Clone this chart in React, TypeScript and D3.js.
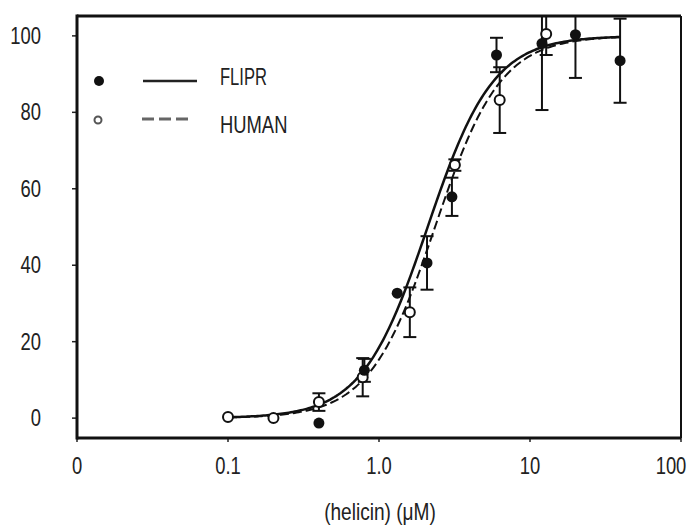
import React from "react";
import * as d3 from "d3";

const W = 689;
const H = 525;

// X axis ticks (log scale; "0" drawn at the 0.01 position)
const xTickValues = [0.01, 0.1, 1, 10, 100];
const xTickLabels = ["0", "0.1", "1.0", "10", "100"];
const yTickValues = [0, 20, 40, 60, 80, 100];

// FLIPR (filled circles, solid fit)
const fliprConc = [0.4, 0.8, 1.32, 2.08, 3.04, 6.0, 12.0, 20.0, 39.5];
const fliprVals = [-1.3, 12.5, 32.7, 40.6, 57.9, 95.0, 98.0, 100.3, 93.5];
const fliprErr = [0, 3.0, 0, 7.0, 5.0, 4.5, 17.4, 11.3, 11.0];

// HUMAN (open circles, dashed fit)
const humanConc = [0.1, 0.2, 0.4, 0.78, 1.6, 3.18, 6.3, 12.8];
const humanVals = [0.3, 0.0, 4.2, 10.7, 27.7, 66.2, 83.2, 100.5];
const humanErr = [0, 0, 2.3, 5.0, 6.5, 1.5, 8.6, 5.5];

// Hill fit parameters
const fliprFit = { ec50: 2.1, n: 2.0, top: 100, bottom: 0 };
const humanFit = { ec50: 2.35, n: 2.0, top: 100, bottom: 0 };
const fitRange = [0.1, 40];

const FONT = "'Liberation Sans', Arial, sans-serif";
const FS = 23;
const SX = 0.8;

const hill = (p: { ec50: number; n: number; top: number; bottom: number }, c: number) =>
  p.bottom + (p.top - p.bottom) / (1 + Math.pow(p.ec50 / c, p.n));

function Txt({ x, y, anchor = "start", children, sx = SX }: { x: number; y: number; anchor?: string; children: React.ReactNode; sx?: number }) {
  return (
    <text
      transform={`translate(${x},${y}) scale(${sx},1)`}
      textAnchor={anchor}
      fontSize={FS}
      fill="#222"
      fontFamily={FONT}
    >
      {children}
    </text>
  );
}

export default function App() {
  const left = 77, right = 681, top = 16, bottom = 438;
  const x = d3.scaleLog().domain([0.01, 100]).range([left, right]);
  const y = d3.scaleLinear().domain([-5.2, 105.2]).range([bottom, top]);

  const curvePts = (p: typeof fliprFit) =>
    d3.range(0, 201).map((i) => {
      const lc = Math.log10(fitRange[0]) + (i / 200) * (Math.log10(fitRange[1]) - Math.log10(fitRange[0]));
      const c = Math.pow(10, lc);
      return [x(c), y(hill(p, c))] as [number, number];
    });
  const line = d3.line();

  const errBars = (conc: number[], vals: number[], errs: number[]) =>
    conc.map((c, i) =>
      errs[i] > 0 ? (
        <g key={i} stroke="#111" strokeWidth={2}>
          <line x1={x(c)} x2={x(c)} y1={y(vals[i] - errs[i])} y2={y(vals[i] + errs[i])} />
          <line x1={x(c) - 6.5} x2={x(c) + 6.5} y1={y(vals[i] - errs[i])} y2={y(vals[i] - errs[i])} />
          <line x1={x(c) - 6.5} x2={x(c) + 6.5} y1={y(vals[i] + errs[i])} y2={y(vals[i] + errs[i])} />
        </g>
      ) : null
    );

  return (
    <svg
      width={W}
      height={H}
      style={{ position: "fixed", left: 0, top: 0, background: "#fff" }}
      fontFamily={FONT}
    >
      <defs>
        <clipPath id="plotClip">
          <rect x={left} y={top} width={right - left} height={bottom - top} />
        </clipPath>
      </defs>
      <rect x={0} y={0} width={W} height={H} fill="#fff" />

      {/* y ticks and labels */}
      {yTickValues.map((v) => (
        <g key={v}>
          <line x1={left - 5} x2={left} y1={y(v)} y2={y(v)} stroke="#222" strokeWidth={1.5} />
          <Txt x={41} y={y(v) + 8} anchor="end">{v}</Txt>
        </g>
      ))}

      {/* x ticks and labels */}
      {xTickValues.map((v, i) => (
        <g key={v}>
          <line x1={x(v)} x2={x(v)} y1={bottom} y2={bottom + 4} stroke="#222" strokeWidth={1.5} />
          <Txt x={i === xTickValues.length - 1 ? x(v) - 10 : x(v)} y={bottom + 36} anchor="middle">
            {xTickLabels[i]}
          </Txt>
        </g>
      ))}
      <Txt x={380} y={520} anchor="middle" sx={0.83}>(helicin) (μM)</Txt>

      <g clipPath="url(#plotClip)">
        {/* fit curves */}
        <path d={line(curvePts(fliprFit)) || ""} fill="none" stroke="#111" strokeWidth={2.5} />
        <path d={line(curvePts(humanFit)) || ""} fill="none" stroke="#111" strokeWidth={2} strokeDasharray="9,4" />

        {errBars(humanConc, humanVals, humanErr)}
        {errBars(fliprConc, fliprVals, fliprErr)}

        {humanConc.map((c, i) => (
          <circle key={"h" + i} cx={x(c)} cy={y(humanVals[i])} r={5} fill="#fff" stroke="#111" strokeWidth={2} />
        ))}
        {fliprConc.map((c, i) => (
          <circle key={"f" + i} cx={x(c)} cy={y(fliprVals[i])} r={5.5} fill="#111" />
        ))}
      </g>

      {/* frame */}
      <line x1={left} x2={left} y1={top - 1.5} y2={bottom + 1.5} stroke="#111" strokeWidth={3} />
      <line x1={left} x2={right} y1={bottom} y2={bottom} stroke="#111" strokeWidth={3} />
      <line x1={left} x2={right} y1={top} y2={top} stroke="#111" strokeWidth={3} />
      <line x1={right} x2={right} y1={top} y2={bottom} stroke="#111" strokeWidth={2} />

      {/* legend */}
      <circle cx={99} cy={81} r={5} fill="#111" />
      <line x1={143} x2={197} y1={81} y2={81} stroke="#222" strokeWidth={2.5} />
      <Txt x={220} y={85} sx={0.72}>FLIPR</Txt>
      <circle cx={98} cy={120} r={3.5} fill="#fff" stroke="#555" strokeWidth={2} />
      <line x1={142} x2={188} y1={119} y2={119} stroke="#666" strokeWidth={3} strokeDasharray="12,5" />
      <Txt x={220} y={133}>HUMAN</Txt>
    </svg>
  );
}
